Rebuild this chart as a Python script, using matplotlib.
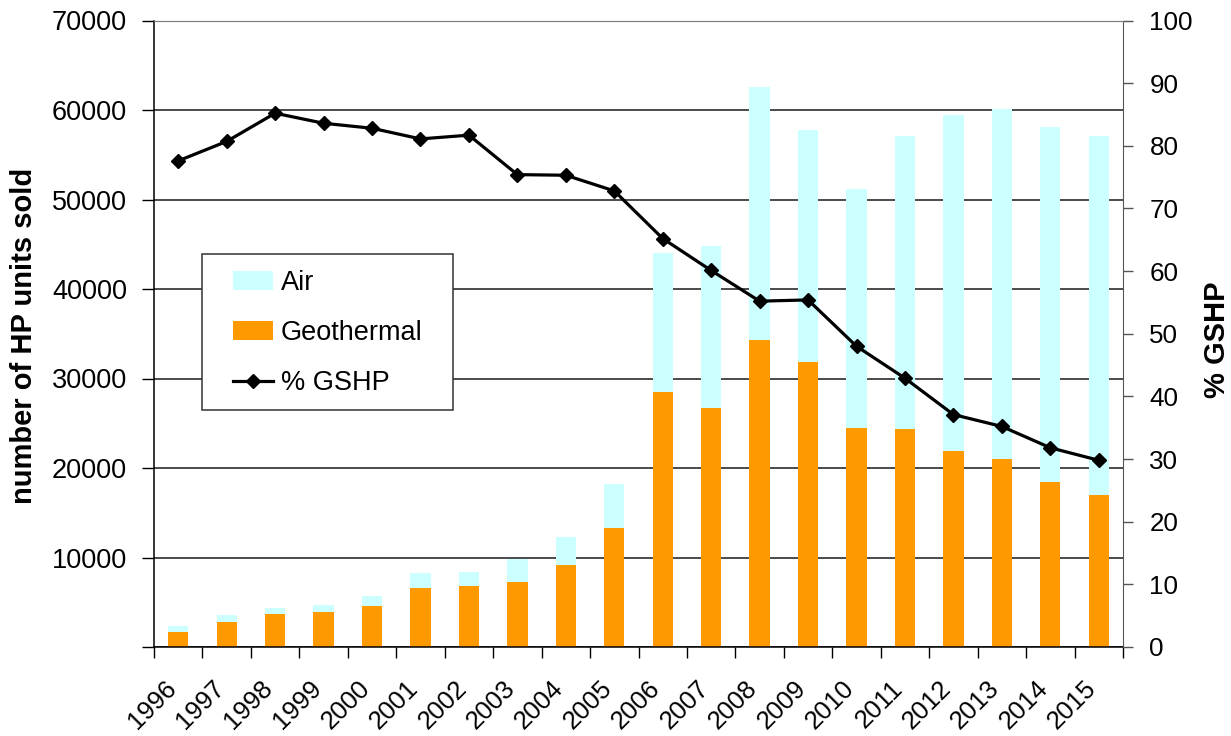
import matplotlib
matplotlib.use("Agg")
import matplotlib.pyplot as plt
from matplotlib.patches import Rectangle
from matplotlib.lines import Line2D
from matplotlib.patches import Patch
import numpy as np

years = ["1996", "1997", "1998", "1999", "2000", "2001", "2002", "2003", "2004", "2005",
         "2006", "2007", "2008", "2009", "2010", "2011", "2012", "2013", "2014", "2015"]
geothermal = [1700, 2830, 3650, 3870, 4620, 6630, 6780, 7300, 9160, 13260,
              28530, 26740, 34340, 31840, 24430, 24320, 21930, 21040, 18440, 16980]
total = [2350, 3575, 4320, 4690, 5730, 8270, 8380, 9830, 12330, 18250,
         43990, 44770, 62600, 57730, 51140, 57090, 59400, 60110, 58100, 57090]
air = [t - g for t, g in zip(total, geothermal)]
pct_gshp = [77.6, 80.7, 85.2, 83.6, 82.8, 81.1, 81.7, 75.4, 75.3, 72.8,
            65.2, 60.1, 55.2, 55.4, 48.0, 42.9, 37.1, 35.2, 31.8, 29.8]

left_ticks = [0, 10000, 20000, 30000, 40000, 50000, 60000, 70000]
right_ticks = [0, 10, 20, 30, 40, 50, 60, 70, 80, 90, 100]

C_AIR = "#CCFFFF"
C_GEO = "#FF9900"

plt.rcParams['font.family'] = ['Liberation Sans', 'DejaVu Sans']

W, H = 1231, 736
fig = plt.figure(figsize=(W / 100, H / 100), dpi=100)
ax = fig.add_axes([154 / W, 1 - 647 / H, (1123 - 154) / W, (647 - 20.5) / H])
ax2 = ax.twinx()

x = np.arange(len(years))
bw = 0.42
ax.bar(x, geothermal, bw, color=C_GEO, zorder=2, label="Geothermal")
ax.bar(x, air, bw, bottom=geothermal, color=C_AIR, zorder=2, label="Air")

ax.set_xlim(-0.5, len(years) - 0.5)
ax.set_ylim(0, 70000)
ax.set_yticks(left_ticks)
ax.set_yticklabels([""] + [str(v) for v in left_ticks[1:]])
ax.tick_params(axis='y', direction='out', length=9, width=1, pad=10.5,
               labelsize=19.5, colors='black')
ax.set_axisbelow(True)
ax.yaxis.grid(True, color='#1a1a1a', linewidth=1.1)

# x ticks at category boundaries, labels near category centres
ax.set_xticks(np.arange(-0.5, len(years), 1.0), minor=True)
ax.tick_params(axis='x', which='minor', direction='out', length=8, width=1, color='black')
ax.set_xticks(x - 0.3)
ax.set_xticklabels(years, rotation=45, ha='right', va='top', rotation_mode='anchor',
                   fontsize=18.5)
ax.tick_params(axis='x', which='major', length=0, pad=21)

for s in ['left', 'bottom']:
    ax.spines[s].set_color('black')
    ax.spines[s].set_linewidth(1.1)
ax.spines['top'].set_color('#808080')
ax.spines['right'].set_visible(False)
ax2.spines['top'].set_color('#808080')
ax2.spines['right'].set_color('#555555')
ax2.spines['left'].set_visible(False)
ax2.spines['bottom'].set_visible(False)

ax2.plot(x, pct_gshp, color='black', linewidth=2.3, marker='D', markersize=7.5,
         zorder=5, label="% GSHP")
ax2.set_ylim(0, 100)
ax2.set_yticks(right_ticks)
ax2.tick_params(axis='y', direction='out', length=7, width=1, pad=12,
                labelsize=18.7, color='#555555', labelcolor='black')

fig.text(24 / W, 1 - 336 / H, "number of HP units sold", rotation=90, ha='center',
         va='center', fontsize=21, fontweight='bold')
fig.text(1217 / W, 1 - 340 / H, "% GSHP", rotation=90, ha='center',
         va='center', fontsize=21, fontweight='bold')

# legend frame
frame = Rectangle((202 / W, 1 - 410 / H), (453 - 202) / W, (410 - 254) / H,
                  transform=fig.transFigure, facecolor='white', edgecolor='#333333',
                  linewidth=1.1, zorder=6)
ax2.add_artist(frame)
frame.set_clip_on(False)

handles = [Patch(facecolor=C_AIR, edgecolor='none'),
           Patch(facecolor=C_GEO, edgecolor='none'),
           Line2D([], [], color='black', linewidth=2.3, marker='D', markersize=7.5)]
leg = ax2.legend(handles, ["Air", "Geothermal", "% GSHP"], loc='center left',
                 bbox_to_anchor=(233 / W, 1 - 333 / H), bbox_transform=fig.transFigure,
                 frameon=False, fontsize=19.5, borderpad=0, borderaxespad=0,
                 handlelength=1.48, handleheight=0.67, handletextpad=0.28,
                 labelspacing=0.89)
leg.set_zorder(7)

fig.savefig("out.png", dpi=100)
